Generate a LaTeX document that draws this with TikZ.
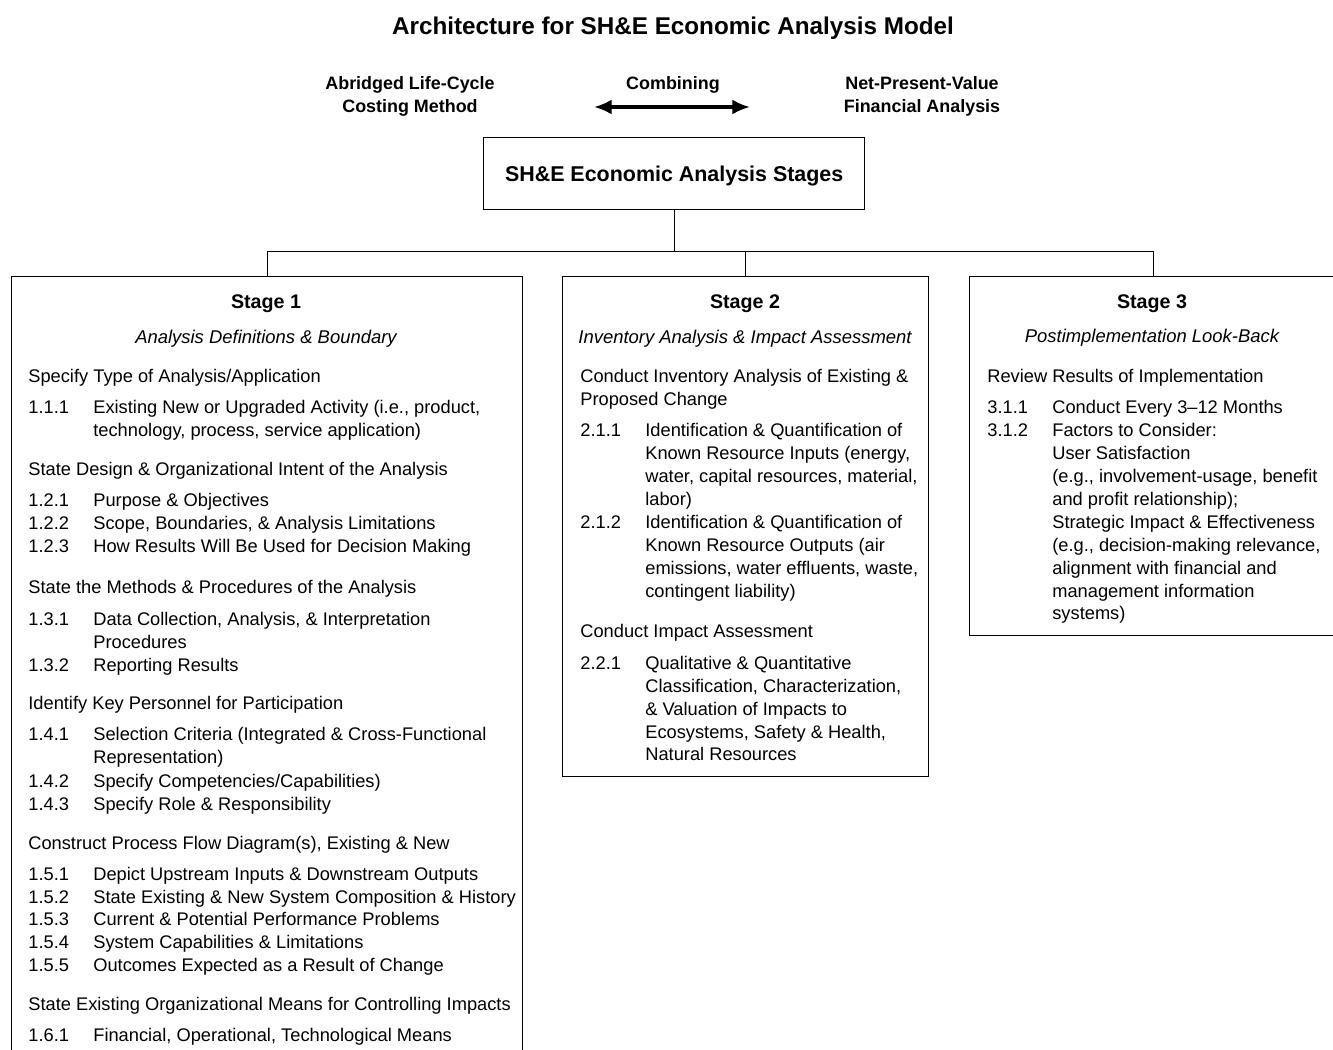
\documentclass[tikz,border=0pt]{standalone}
\usepackage{fontspec}
\setmainfont{Liberation Sans}
\usetikzlibrary{arrows.meta}
\usetikzlibrary{positioning}

\begin{document}
\begin{tikzpicture}[x=0.02cm, y=-0.02cm,
    txt/.style={anchor=base west, inner sep=0pt, font=\fontsize{10.4}{13}\selectfont},
    head/.style={anchor=base, inner sep=0pt, font=\fontsize{11.2}{13}\selectfont\bfseries},
    sub/.style={anchor=base, inner sep=0pt, font=\fontsize{10.5}{13}\selectfont\itshape},
    method/.style={align=center, inner sep=0pt, font=\fontsize{10.2}{13}\selectfont\bfseries},
    stagebox/.style={draw, line width=0.8pt, anchor=north west, inner sep=0pt},
    link/.style={line width=0.7pt}]

  \clip (0,0) rectangle (1333,1050);

  % top
  \node[anchor=base, font=\fontsize{13.8}{16}\selectfont\bfseries] (title) at (673,35)
    {Architecture for SH\&E Economic Analysis Model};
  \node[method] (lcc) at (410,96) {Abridged Life-Cycle\\Costing Method};
  \node[method] (npv) at (922,96) {Net-Present-Value\\Financial Analysis};
  \node[method, anchor=base] (comb) at (673,90) {Combining};
  \coordinate (al) at (594,107);
  \coordinate (ar) at (750,107);
  \draw[{Latex[length=10pt,width=8.5pt]}-{Latex[length=10pt,width=8.5pt]}, line width=1.8pt] (al) -- (ar);

  \node[stagebox, minimum width=7.62cm, minimum height=1.44cm, text depth=0pt,
        font=\fontsize{12.2}{15}\selectfont\bfseries] (stages) at (483,137)
    {SH\&E Economic Analysis Stages};

  % the three stage boxes
  \node[stagebox, minimum width=10.22cm, minimum height=18cm] (s1) at (11,276) {};
  \node[stagebox, minimum width=7.32cm, minimum height=10cm] (s2) at (562,276) {};
  \node[stagebox, minimum width=7.36cm, minimum height=7.18cm] (s3) at (969,276) {};

  \draw[link] (stages.south) -- ++(0,41) coordinate (bus);
  \draw[link] (s1.north) |- (bus) -| (s3.north);
  \draw[link] (s2.north) -- (s2.north |- bus);

  \begin{scope}[shift={(0,2)}]
  % stage 1
  \node[head] (h1) at (266,307) {Stage 1};
  \node[sub] (d1) at (266,342) {Analysis Definitions \& Boundary};
  \node[txt] (g11) at (28,381) {Specify Type of Analysis/Application};
  \node[txt] (n111) at (28,412) {1.1.1};
  \node[txt] (t111) at (93,412) {Existing New or Upgraded Activity (i.e., product,};
  \node[txt] (t111b) at (93,435) {technology, process, service application)};
  \node[txt] (g12) at (28,474) {State Design \& Organizational Intent of the Analysis};
  \node[txt] (n121) at (28,505) {1.2.1};
  \node[txt] (t121) at (93,505) {Purpose \& Objectives};
  \node[txt] (n122) at (28,528) {1.2.2};
  \node[txt] (t122) at (93,528) {Scope, Boundaries, \& Analysis Limitations};
  \node[txt] (n123) at (28,551) {1.2.3};
  \node[txt] (t123) at (93,551) {How Results Will Be Used for Decision Making};
  \node[txt] (g13) at (28,592) {State the Methods \& Procedures of the Analysis};
  \node[txt] (n131) at (28,624) {1.3.1};
  \node[txt] (t131) at (93,624) {Data Collection, Analysis, \& Interpretation};
  \node[txt] (t131b) at (93,647) {Procedures};
  \node[txt] (n132) at (28,670) {1.3.2};
  \node[txt] (t132) at (93,670) {Reporting Results};
  \node[txt] (g14) at (28,708) {Identify Key Personnel for Participation};
  \node[txt] (n141) at (28,739) {1.4.1};
  \node[txt] (t141) at (93,739) {Selection Criteria (Integrated \& Cross-Functional};
  \node[txt] (t141b) at (93,762) {Representation)};
  \node[txt] (n142) at (28,785) {1.4.2};
  \node[txt] (t142) at (93,785) {Specify Competencies/Capabilities)};
  \node[txt] (n143) at (28,808) {1.4.3};
  \node[txt] (t143) at (93,808) {Specify Role \& Responsibility};
  \node[txt] (g15) at (28,847) {Construct Process Flow Diagram(s), Existing \& New};
  \node[txt] (n151) at (28,878) {1.5.1};
  \node[txt] (t151) at (93,878) {Depict Upstream Inputs \& Downstream Outputs};
  \node[txt] (n152) at (28,901) {1.5.2};
  \node[txt] (t152) at (93,901) {State Existing \& New System Composition \& History};
  \node[txt] (n153) at (28,923) {1.5.3};
  \node[txt] (t153) at (93,923) {Current \& Potential Performance Problems};
  \node[txt] (n154) at (28,946) {1.5.4};
  \node[txt] (t154) at (93,946) {System Capabilities \& Limitations};
  \node[txt] (n155) at (28,969) {1.5.5};
  \node[txt] (t155) at (93,969) {Outcomes Expected as a Result of Change};
  \node[txt] (g16) at (28,1008) {State Existing Organizational Means for Controlling Impacts};
  \node[txt] (n161) at (28,1039) {1.6.1};
  \node[txt] (t161) at (93,1039) {Financial, Operational, Technological Means};

  % stage 2
  \node[head] (h2) at (745,307) {Stage 2};
  \node[sub] (d2) at (745,342) {Inventory Analysis \& Impact Assessment};
  \node[txt] (g21) at (580,381) {Conduct Inventory Analysis of Existing \&};
  \node[txt] (g21b) at (580,404) {Proposed Change};
  \node[txt] (n211) at (580,435) {2.1.1};
  \node[txt] (t211) at (645,435) {Identification \& Quantification of};
  \node[txt] (t211b) at (645,458) {Known Resource Inputs (energy,};
  \node[txt] (t211c) at (645,481) {water, capital resources, material,};
  \node[txt] (t211d) at (645,504) {labor)};
  \node[txt] (n212) at (580,527) {2.1.2};
  \node[txt] (t212) at (645,527) {Identification \& Quantification of};
  \node[txt] (t212b) at (645,550) {Known Resource Outputs (air};
  \node[txt] (t212c) at (645,573) {emissions, water effluents, waste,};
  \node[txt] (t212d) at (645,596) {contingent liability)};
  \node[txt] (g22) at (580,636) {Conduct Impact Assessment};
  \node[txt] (n221) at (580,668) {2.2.1};
  \node[txt] (t221) at (645,668) {Qualitative \& Quantitative};
  \node[txt] (t221b) at (645,691) {Classification, Characterization,};
  \node[txt] (t221c) at (645,714) {\& Valuation of Impacts to};
  \node[txt] (t221d) at (645,737) {Ecosystems, Safety \& Health,};
  \node[txt] (t221e) at (645,759) {Natural Resources};

  % stage 3
  \node[head] (h3) at (1152,307) {Stage 3};
  \node[sub] (d3) at (1152,341) {Postimplementation Look-Back};
  \node[txt] (g31) at (987,381) {Review Results of Implementation};
  \node[txt] (n311) at (987,412) {3.1.1};
  \node[txt] (t311) at (1052,412) {Conduct Every 3--12 Months};
  \node[txt] (n312) at (987,435) {3.1.2};
  \node[txt] (t312) at (1052,435) {Factors to Consider:};
  \node[txt] (t312b) at (1052,458) {User Satisfaction};
  \node[txt] (t312c) at (1052,481) {(e.g., involvement-usage, benefit};
  \node[txt] (t312d) at (1052,504) {and profit relationship);};
  \node[txt] (t312e) at (1052,527) {Strategic Impact \& Effectiveness};
  \node[txt] (t312f) at (1052,550) {(e.g., decision-making relevance,};
  \node[txt] (t312g) at (1052,573) {alignment with financial and};
  \node[txt] (t312h) at (1052,596) {management information};
  \node[txt] (t312i) at (1052,618) {systems)};
  \end{scope}
\end{tikzpicture}
\end{document}
